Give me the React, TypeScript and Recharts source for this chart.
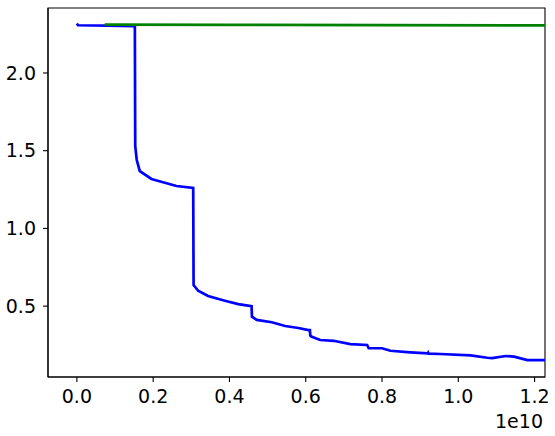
import React from 'react';
import { LineChart, Line, XAxis, YAxis, ReferenceArea } from 'recharts';

// x in units of 1e10
const blueX = [0, 0.003, 0.08, 0.152, 0.153, 0.157, 0.165, 0.1955, 0.261, 0.305, 0.306, 0.318, 0.344, 0.388, 0.423, 0.458, 0.459, 0.4715, 0.511, 0.546, 0.581, 0.607, 0.611, 0.612, 0.616, 0.638, 0.673, 0.717, 0.761, 0.765, 0.8, 0.822, 0.874, 0.92, 0.921, 0.922, 0.953, 1.032, 1.076, 1.089, 1.124, 1.146, 1.181, 1.227];
const blueY = [2.318, 2.307, 2.305, 2.302, 1.53, 1.44, 1.369, 1.318, 1.273, 1.26, 0.636, 0.599, 0.565, 0.535, 0.513, 0.5, 0.432, 0.411, 0.396, 0.372, 0.359, 0.346, 0.346, 0.31, 0.303, 0.282, 0.277, 0.256, 0.25, 0.229, 0.229, 0.213, 0.203, 0.196, 0.2, 0.194, 0.192, 0.183, 0.168, 0.166, 0.179, 0.175, 0.153, 0.153];
const greenX = [0.073, 0.4, 0.8, 1.227];
const greenY = [2.311, 2.309, 2.308, 2.306];
const xTicks = [0, 0.2, 0.4, 0.6, 0.8, 1.0, 1.2];
const yTicks = [0.5, 1.0, 1.5, 2.0];
const xDomain: [number, number] = [-0.0757, 1.2273];
const yDomain: [number, number] = [0.044, 2.418];

const blueData = blueX.map((x, i) => ({ x, y: blueY[i] }));
const greenData = greenX.map((x, i) => ({ x, y: greenY[i] }));

const FONT = "'DejaVu Sans', sans-serif";
const tickStyle = { fontFamily: FONT, fontSize: 19, fill: '#000' };

const OffsetLabel = (props: any) => {
  const vb = props.viewBox || {};
  return (
    <text x={vb.x + vb.width - 2} y={vb.y + 51} textAnchor="end" fontFamily={FONT} fontSize={19} fill="#000">
      1e10
    </text>
  );
};

export default function App() {
  return (
    <div style={{ position: 'absolute', left: 0, top: 0, width: 555, height: 436, background: '#fff' }}>
      <LineChart width={555} height={436} margin={{ top: 8, right: 10, bottom: 0, left: 0 }}>
        <XAxis
          type="number"
          dataKey="x"
          domain={xDomain}
          allowDataOverflow
          ticks={xTicks}
          tickFormatter={(v: number) => v.toFixed(1)}
          height={59}
          tickSize={5}
          tickMargin={8}
          tick={tickStyle}
          axisLine={{ stroke: '#000', strokeWidth: 1.1 }}
          tickLine={{ stroke: '#000', strokeWidth: 1.1 }}
          label={<OffsetLabel />}
        />
        <YAxis
          type="number"
          dataKey="y"
          domain={yDomain}
          allowDataOverflow
          ticks={yTicks}
          tickFormatter={(v: number) => v.toFixed(1)}
          width={48}
          tickSize={5}
          tickMargin={7}
          tick={tickStyle}
          axisLine={{ stroke: '#000', strokeWidth: 1.1 }}
          tickLine={{ stroke: '#000', strokeWidth: 1.1 }}
        />
        <ReferenceArea
          x1={xDomain[0]}
          x2={xDomain[1]}
          y1={yDomain[0]}
          y2={yDomain[1]}
          fill="none"
          fillOpacity={0}
          stroke="#000"
          strokeWidth={1.1}
          ifOverflow="visible"
        />
        <Line
          data={blueData}
          dataKey="y"
          type="linear"
          stroke="#0000ff"
          strokeWidth={2.7}
          dot={false}
          activeDot={false}
          isAnimationActive={false}
        />
        <Line
          data={greenData}
          dataKey="y"
          type="linear"
          stroke="#008000"
          strokeWidth={2.7}
          dot={false}
          activeDot={false}
          isAnimationActive={false}
        />
      </LineChart>
    </div>
  );
}
